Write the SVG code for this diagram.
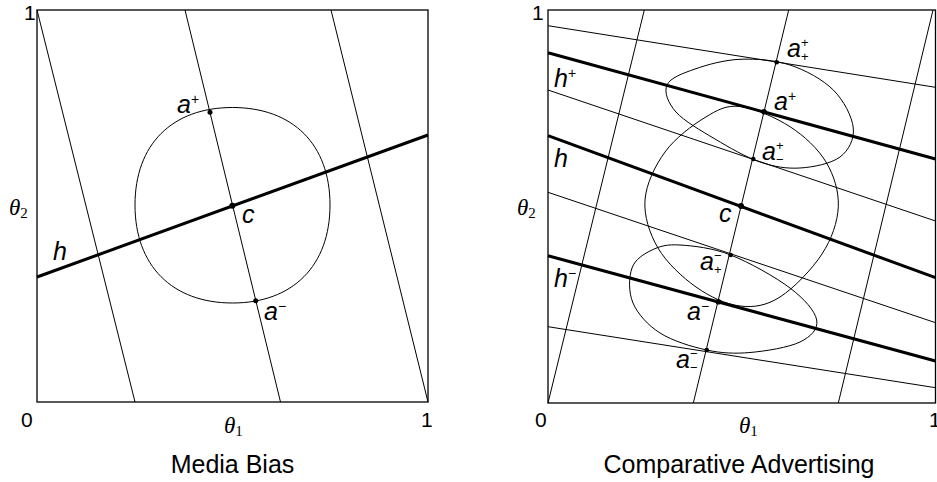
<svg xmlns="http://www.w3.org/2000/svg" width="937" height="482" viewBox="0 0 937 482">
<style>
.frame{fill:none;stroke:#000;stroke-width:1.3}
.thin{fill:none;stroke:#000;stroke-width:1}
.thick{fill:none;stroke:#000;stroke-width:3}
.dot{fill:#000}
.tick{font-family:"Liberation Sans",Arial,sans-serif;font-size:21px;fill:#000}
.lbl{font-family:"Liberation Sans",Arial,sans-serif;font-size:25px;font-style:italic;fill:#000}
.sup{font-family:"Liberation Sans",Arial,sans-serif;font-size:14px;font-style:normal;fill:#000}
.ss{font-family:"Liberation Sans",Arial,sans-serif;font-size:13px;font-style:normal;fill:#000}
.th{font-family:"Liberation Serif","Times New Roman",serif;font-size:23px;font-style:italic;fill:#000}
.sub{font-family:"Liberation Serif","Times New Roman",serif;font-size:15px;font-style:normal;fill:#000}
.title{font-family:"Liberation Sans",Arial,sans-serif;font-size:25px;fill:#000}
</style>
<rect width="937" height="482" fill="#fff"/>

<!-- Left panel: Media Bias -->
<g id="left-panel">
  <rect class="frame" x="37" y="10" width="391" height="392"/>
  <text class="tick" x="24" y="20">1</text>
  <text class="tick" x="21" y="427">0</text>
  <text class="tick" x="421" y="427">1</text>
  <text class="th" x="9" y="215">θ<tspan class="sub" dy="3">2</tspan></text>
  <text class="th" x="224" y="433">θ<tspan class="sub" dy="3">1</tspan></text>
  <text class="title" x="232.5" y="473" text-anchor="middle">Media Bias</text>
</g>
<g id="left-connectors">
  <line class="thin" x1="37" y1="10" x2="135" y2="402"/>
  <line class="thin" x1="185" y1="10" x2="280.5" y2="402"/>
  <line class="thin" x1="331" y1="10" x2="428" y2="402"/>
  <line class="thick" x1="37" y1="277" x2="428" y2="135"/>
</g>
<g id="left-region">
  <path class="thin" d="M232.5,107.5 C293,107.5 330,144.5 330,205 C330,265.5 293,303 232.5,303 C172,303 135,265.5 135,205 C135,144.5 172,107.5 232.5,107.5 Z"/>
</g>
<g id="left-a-plus">
  <circle class="dot" cx="210" cy="112.3" r="2.5"/>
  <text class="lbl" x="177" y="113">a<tspan class="sup" dy="-9">+</tspan></text>
</g>
<g id="left-c">
  <circle class="dot" cx="232.3" cy="205.7" r="3"/>
  <text class="lbl" x="242" y="223">c</text>
</g>
<g id="left-a-minus">
  <circle class="dot" cx="255.7" cy="300.7" r="2.5"/>
  <text class="lbl" x="264" y="320">a<tspan class="sup" dy="-9">−</tspan></text>
</g>
<g id="left-h">
  <text class="lbl" x="53" y="260">h</text>
</g>

<!-- Right panel: Comparative Advertising -->
<g id="right-panel">
  <rect class="frame" x="548" y="10" width="387.5" height="393"/>
  <text class="tick" x="532" y="20">1</text>
  <text class="tick" x="535" y="427">0</text>
  <text class="tick" x="929" y="427">1</text>
  <text class="th" x="517" y="215">θ<tspan class="sub" dy="3">2</tspan></text>
  <text class="th" x="739" y="433">θ<tspan class="sub" dy="3">1</tspan></text>
  <text class="title" x="739" y="473" text-anchor="middle">Comparative Advertising</text>
</g>
<g id="right-connectors">
  <line class="thin" x1="548" y1="403" x2="644.3" y2="10"/>
  <line class="thin" x1="693.3" y1="403" x2="788.7" y2="10"/>
  <line class="thin" x1="838.3" y1="403" x2="933" y2="10"/>
  <line class="thin" x1="548" y1="25.7" x2="935.5" y2="87.3"/>
  <line class="thin" x1="548" y1="90" x2="935.5" y2="221"/>
  <line class="thin" x1="548" y1="192.3" x2="935.5" y2="322.7"/>
  <line class="thin" x1="548" y1="326.7" x2="935.5" y2="387.7"/>
  <line class="thick" x1="548" y1="52.7" x2="935.5" y2="159"/>
  <line class="thick" x1="548" y1="135.7" x2="935.5" y2="277.7"/>
  <line class="thick" x1="548" y1="255.7" x2="935.5" y2="361"/>
</g>
<g id="right-regions">
  <path class="thin" d="M740,106.5 C754.17,108.03 775.67,117.45 790,126.7 C804.33,135.95 817.95,148.67 826,162 C834.05,175.33 838.97,191.37 838.3,206.7 C837.630,222.03 831.72,238.95 822,254 C812.28,269.05 793.67,288.33 780,297 C766.33,305.67 754,307.67 740,306 C726,304.33 709.67,296.67 696,287 C682.33,277.33 666.5,262.5 658,248 C649.5,233.5 643.83,216 645,200 C646.17,184 655,165.75 665,152 C675,138.25 692.5,125.08 705,117.5 C717.5,109.92 725.83,104.97 740,106.5 Z"/>
  <path class="thin" d="M740,59.3 C755.83,58.63 774.45,59.88 790,65 C805.55,70.12 822.75,79.5 833.3,90 C843.85,100.5 852.18,116.83 853.3,128 C854.42,139.17 848.88,150.33 840,157 C831.12,163.67 813.33,167.17 800,168 C786.67,168.83 774.17,166.83 760,162 C745.83,157.17 729,147.33 715,139 C701,130.67 684,121 676,112 C668,103 663.83,92.17 667,85 C670.17,77.83 682.83,73.28 695,69 C707.17,64.72 724.17,59.97 740,59.3 Z"/>
  <path class="thin" d="M680,245 C693.12,245.83 712.37,247.83 730.7,255 C749.03,262.17 775.67,277.17 790,288 C804.33,298.83 815.03,311 816.7,320 C818.37,329 811.12,336.58 800,342 C788.88,347.42 765.55,351.17 750,352.5 C734.45,353.83 721.7,353.25 706.7,350 C691.7,346.75 672.28,340.83 660,333 C647.72,325.17 637.67,313.83 633,303 C628.33,292.17 628.83,276.83 632,268 C635.17,259.17 644,253.83 652,250 C660,246.17 666.88,244.17 680,245 Z"/>
</g>
<g id="right-h-plus"><text class="lbl" x="554" y="87">h<tspan class="sup" dy="-9">+</tspan></text></g>
<g id="right-h"><text class="lbl" x="554" y="167">h</text></g>
<g id="right-h-minus"><text class="lbl" x="554" y="287">h<tspan class="sup" dy="-9">−</tspan></text></g>
<g id="right-a-pp">
  <circle class="dot" cx="776.7" cy="62.3" r="2.3"/>
  <text class="lbl" x="787" y="57">a<tspan class="ss" dy="-10">+</tspan><tspan class="ss" dx="-7.6" dy="14">+</tspan></text>
</g>
<g id="right-a-plus">
  <circle class="dot" cx="764" cy="111.7" r="2.8"/>
  <text class="lbl" x="774" y="110">a<tspan class="sup" dy="-9">+</tspan></text>
</g>
<g id="right-a-pm">
  <circle class="dot" cx="753.3" cy="159" r="2.3"/>
  <text class="lbl" x="762" y="160">a<tspan class="ss" dy="-10">+</tspan><tspan class="ss" dx="-7.6" dy="14">−</tspan></text>
</g>
<g id="right-c">
  <circle class="dot" cx="741" cy="206" r="3"/>
  <text class="lbl" x="719" y="222">c</text>
</g>
<g id="right-a-mp">
  <circle class="dot" cx="730.7" cy="255" r="2.3"/>
  <text class="lbl" x="700" y="270">a<tspan class="ss" dy="-10">−</tspan><tspan class="ss" dx="-7.6" dy="14">+</tspan></text>
</g>
<g id="right-a-minus">
  <circle class="dot" cx="718.3" cy="301.7" r="2.8"/>
  <text class="lbl" x="687" y="320">a<tspan class="sup" dy="-9">−</tspan></text>
</g>
<g id="right-a-mm">
  <circle class="dot" cx="706.7" cy="350" r="2.3"/>
  <text class="lbl" x="676" y="368">a<tspan class="ss" dy="-10">−</tspan><tspan class="ss" dx="-7.6" dy="14">−</tspan></text>
</g>
</svg>
